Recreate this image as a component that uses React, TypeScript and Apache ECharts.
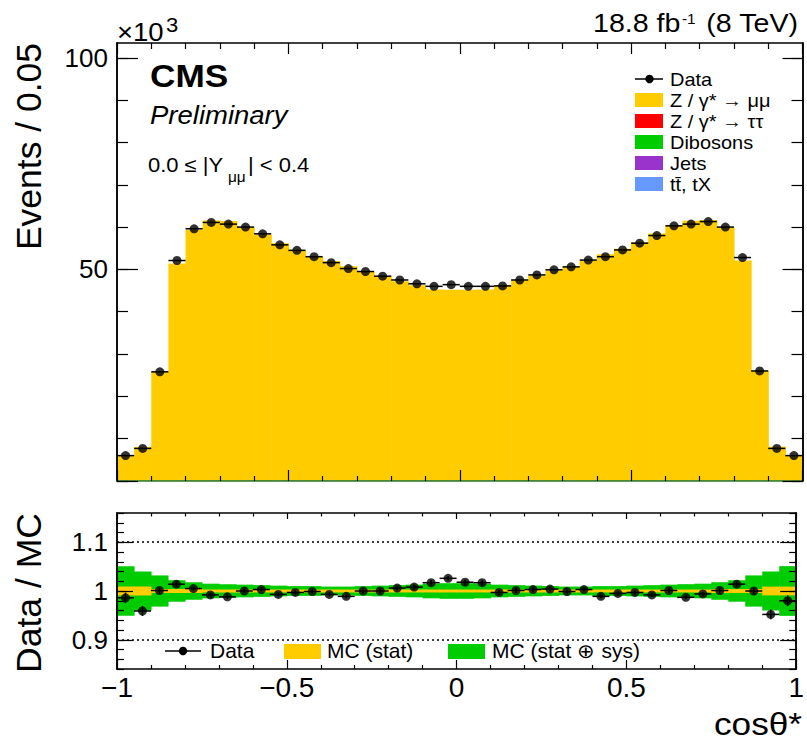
import React, { useEffect, useRef } from "react";
import * as echarts from "echarts";

// ---------- data (event counts in units of 10^3) ----------
const binLow = [
  -1.0, -0.95, -0.9, -0.85, -0.8, -0.75, -0.7, -0.65, -0.6, -0.55,
  -0.5, -0.45, -0.4, -0.35, -0.3, -0.25, -0.2, -0.15, -0.1, -0.05,
  0.0, 0.05, 0.1, 0.15, 0.2, 0.25, 0.3, 0.35, 0.4, 0.45,
  0.5, 0.55, 0.6, 0.65, 0.7, 0.75, 0.8, 0.85, 0.9, 0.95,
];
const BIN_W = 0.05;

const dataCounts = [
  6.0, 7.7, 25.8, 52.1, 59.6, 61.1, 60.7, 60.0, 58.4, 55.8,
  54.5, 53.0, 51.6, 50.2, 49.5, 48.4, 47.5, 46.6, 46.0, 46.4,
  46.0, 46.0, 46.1, 47.5, 48.7, 49.9, 50.6, 52.2, 53.0, 54.6,
  56.2, 58.0, 60.3, 60.7, 61.3, 60.0, 52.8, 26.0, 7.7, 6.0,
];

const zMuMu = [
  5.92, 7.85, 25.57, 51.17, 59.09, 61.37, 61.22, 59.78, 58.0, 56.0,
  54.45, 52.86, 51.75, 50.55, 49.29, 48.19, 47.01, 46.02, 45.02, 45.01,
  44.98, 45.02, 46.03, 47.24, 48.34, 49.49, 50.44, 51.83, 53.38, 54.66,
  56.16, 58.26, 60.03, 61.29, 61.45, 59.72, 51.87, 25.82, 7.93, 5.96,
];
const zTauTau = [
  0.03, 0.03, 0.04, 0.05, 0.05, 0.05, 0.05, 0.05, 0.05, 0.05,
  0.05, 0.05, 0.05, 0.05, 0.05, 0.05, 0.05, 0.05, 0.05, 0.05,
  0.05, 0.05, 0.05, 0.05, 0.05, 0.05, 0.05, 0.05, 0.05, 0.05,
  0.05, 0.05, 0.05, 0.05, 0.05, 0.05, 0.05, 0.04, 0.03, 0.03,
];
const dibosons = [
  0.06, 0.07, 0.08, 0.08, 0.08, 0.08, 0.08, 0.08, 0.08, 0.08,
  0.08, 0.08, 0.08, 0.08, 0.08, 0.08, 0.08, 0.08, 0.08, 0.08,
  0.08, 0.08, 0.08, 0.08, 0.08, 0.08, 0.08, 0.08, 0.08, 0.08,
  0.08, 0.08, 0.08, 0.08, 0.08, 0.08, 0.08, 0.08, 0.07, 0.06,
];
const jets = [
  0.02, 0.02, 0.03, 0.03, 0.03, 0.03, 0.03, 0.03, 0.03, 0.03,
  0.03, 0.03, 0.03, 0.03, 0.03, 0.03, 0.03, 0.03, 0.03, 0.03,
  0.03, 0.03, 0.03, 0.03, 0.03, 0.03, 0.03, 0.03, 0.03, 0.03,
  0.03, 0.03, 0.03, 0.03, 0.03, 0.03, 0.03, 0.03, 0.02, 0.02,
];
const ttbarTX = [
  0.06, 0.06, 0.06, 0.05, 0.05, 0.05, 0.05, 0.05, 0.05, 0.05,
  0.05, 0.05, 0.05, 0.05, 0.05, 0.05, 0.05, 0.05, 0.05, 0.05,
  0.05, 0.05, 0.05, 0.05, 0.05, 0.05, 0.05, 0.05, 0.05, 0.05,
  0.05, 0.05, 0.05, 0.05, 0.05, 0.05, 0.05, 0.06, 0.06, 0.06,
];

// Data / MC ratio panel
const ratio = [
  0.986, 0.959, 1.001, 1.014, 1.005, 0.992, 0.988, 1.0, 1.003, 0.993,
  0.997, 0.999, 0.993, 0.989, 1.0, 1.0, 1.006, 1.008, 1.017, 1.026,
  1.018, 1.017, 0.997, 1.001, 1.003, 1.004, 0.999, 1.003, 0.989, 0.995,
  0.997, 0.992, 1.001, 0.987, 0.994, 1.001, 1.014, 1.0, 0.952, 0.98,
];
const ratioErr = [
  0.011, 0.01, 0.006, 0.005, 0.004, 0.004, 0.004, 0.004, 0.004, 0.004,
  0.004, 0.004, 0.004, 0.004, 0.004, 0.005, 0.005, 0.005, 0.005, 0.005,
  0.005, 0.005, 0.005, 0.005, 0.005, 0.005, 0.004, 0.004, 0.004, 0.004,
  0.004, 0.004, 0.004, 0.004, 0.004, 0.004, 0.005, 0.006, 0.01, 0.011,
];
const mcStatErr = [
  0.009, 0.009, 0.004, 0.004, 0.004, 0.003, 0.003, 0.003, 0.003, 0.003,
  0.003, 0.003, 0.003, 0.003, 0.003, 0.003, 0.003, 0.003, 0.003, 0.003,
  0.003, 0.003, 0.003, 0.003, 0.003, 0.003, 0.003, 0.003, 0.003, 0.003,
  0.003, 0.003, 0.003, 0.003, 0.003, 0.004, 0.004, 0.004, 0.009, 0.009,
];
const mcTotErr = [
  0.051, 0.04, 0.032, 0.022, 0.018, 0.015, 0.014, 0.013, 0.012, 0.011,
  0.01, 0.01, 0.009, 0.009, 0.01, 0.011, 0.012, 0.013, 0.015, 0.016,
  0.016, 0.015, 0.013, 0.012, 0.011, 0.01, 0.009, 0.009, 0.01, 0.01,
  0.011, 0.012, 0.013, 0.014, 0.015, 0.018, 0.022, 0.032, 0.04, 0.051,
];

// axis ticks / labels
const topMinorTicks = [0, 10, 20, 30, 40, 50, 60, 70, 80, 90, 100];
const topMajorTicks = [0, 50, 100];
const topTickLabels = [50, 100];
const ratioMinorTicks = [
  0.84, 0.86, 0.88, 0.9, 0.92, 0.94, 0.96, 0.98, 1.0, 1.02, 1.04, 1.06,
  1.08, 1.1, 1.12, 1.14, 1.16,
];
const ratioMajorTicks = [0.9, 1.0, 1.1];
const ratioTickLabels = [0.9, 1.0, 1.1];
const ratioRefLines = [0.9, 1.1];

const FONT = "'Liberation Sans', Arial, Helvetica, sans-serif";
const C_MUMU = "#ffcc00";
const C_TAUTAU = "#ff0000";
const C_DIBOSON = "#00cc00";
const C_JETS = "#9933cc";
const C_TTBAR = "#6699ff";
const C_SYS = "#00cc00";

export default function App() {
  const ref = useRef<HTMLDivElement>(null);

  useEffect(() => {
    if (!ref.current) return;
    const chart = echarts.init(ref.current, null, { renderer: "svg" });
    const n = binLow.length;

    const rectRender = (color: string) => (_p: any, api: any) => {
      const a = api.coord([api.value(0), api.value(3)]);
      const b = api.coord([api.value(1), api.value(2)]);
      return {
        type: "rect",
        silent: true,
        shape: { x: a[0], y: a[1], width: b[0] - a[0] + 0.6, height: b[1] - a[1] },
        style: { fill: color },
      };
    };

    const errRender = (_p: any, api: any) => {
      const x0 = api.value(0);
      const x1 = api.value(1);
      const y = api.value(2);
      const e = api.value(3);
      const l = api.coord([x0, y]);
      const r = api.coord([x1, y]);
      const t = api.coord([(x0 + x1) / 2, y + e]);
      const u = api.coord([(x0 + x1) / 2, y - e]);
      return {
        type: "group",
        silent: true,
        children: [
          { type: "line", shape: { x1: l[0], y1: l[1], x2: r[0], y2: r[1] }, style: { stroke: "#000", lineWidth: 1.5 } },
          { type: "line", shape: { x1: t[0], y1: t[1], x2: u[0], y2: u[1] }, style: { stroke: "#000", lineWidth: 1.5 } },
        ],
      };
    };

    // stacked MC
    const stackDefs = [
      { name: "tt\u0304, tX", values: ttbarTX, color: C_TTBAR },
      { name: "Jets", values: jets, color: C_JETS },
      { name: "Dibosons", values: dibosons, color: C_DIBOSON },
      { name: "Z / \u03b3* \u2192 \u03c4\u03c4", values: zTauTau, color: C_TAUTAU },
      { name: "Z / \u03b3* \u2192 \u03bc\u03bc", values: zMuMu, color: C_MUMU },
    ];
    let cum = new Array(n).fill(0);
    const stackSeries = stackDefs.map((def) => {
      const data = def.values.map((v, i) => [binLow[i], binLow[i] + BIN_W, cum[i], cum[i] + v]);
      cum = cum.map((c, i) => c + def.values[i]);
      return {
        type: "custom",
        name: def.name,
        xAxisIndex: 0,
        yAxisIndex: 0,
        renderItem: rectRender(def.color),
        encode: { x: [0, 1], y: [2, 3] },
        data,
        z: 1,
      };
    });

    const centers = binLow.map((b) => b + BIN_W / 2);

    const lineStyle = { color: "#000", width: 1.5 };
    const tickStyle = { color: "#000", width: 1.2 };

    const xAx = (
      grid: number,
      pos: string,
      labels: boolean,
      major: number,
      minor: number,
      lineColor = "#000"
    ) => ({
      type: "value",
      gridIndex: grid,
      position: pos,
      min: -1,
      max: 1,
      interval: 0.5,
      z: 10,
      axisLine: { show: true, onZero: false, lineStyle: { color: lineColor, width: 1.5 } },
      axisTick: { show: true, inside: true, length: major, lineStyle: tickStyle },
      minorTick: { show: true, splitNumber: 5, length: minor, lineStyle: tickStyle },
      splitLine: { show: false },
      minorSplitLine: { show: false },
      axisLabel: labels
        ? {
            show: true,
            fontSize: 28,
            fontFamily: FONT,
            color: "#000",
            margin: 4,
            formatter: (v: number) => (v < 0 ? "\u2212" + String(-v) : String(v)),
          }
        : { show: false },
    });

    const yAx = (
      grid: number,
      pos: string,
      min: number,
      max: number,
      ticks: number[],
      len: number,
      labels: number[] | null
    ) => ({
      type: "value",
      gridIndex: grid,
      position: pos,
      min,
      max,
      z: 10,
      axisLine: { show: true, onZero: false, lineStyle },
      axisTick: { show: true, inside: true, length: len, customValues: ticks, lineStyle: tickStyle },
      splitLine: { show: false },
      axisLabel: labels
        ? {
            show: true,
            customValues: labels,
            fontSize: 26,
            fontFamily: FONT,
            color: "#000",
            margin: 9,
            formatter: (v: number) => String(v),
          }
        : { show: false },
    });

    const txt = (
      text: string,
      x: number,
      y: number,
      size: number,
      o: { align?: string; weight?: string; style?: string; scaleX?: number; rotation?: number } = {}
    ) => ({
      type: "text",
      x,
      y,
      silent: true,
      scaleX: o.scaleX ?? 1.1,
      rotation: o.rotation ?? 0,
      style: {
        text,
        fill: "#000",
        fontSize: size,
        fontFamily: FONT,
        fontWeight: o.weight ?? "normal",
        fontStyle: o.style ?? "normal",
        align: o.align ?? "left",
        textAlign: o.align ?? "left",
        verticalAlign: "middle",
        textVerticalAlign: "middle",
      },
    });

    const legendRows = [
      { label: "Z / \u03b3* \u2192 \u03bc\u03bc", color: C_MUMU },
      { label: "Z / \u03b3* \u2192 \u03c4\u03c4", color: C_TAUTAU },
      { label: "Dibosons", color: C_DIBOSON },
      { label: "Jets", color: C_JETS },
      { label: "tt\u0304, tX", color: C_TTBAR },
    ];
    const legendGraphics: any[] = [
      { type: "line", silent: true, shape: { x1: 635, y1: 79, x2: 663, y2: 79 }, style: { stroke: "#000", lineWidth: 1.5 } },
      { type: "circle", silent: true, shape: { cx: 649.5, cy: 79, r: 4.2 }, style: { fill: "#000" } },
      txt("Data", 670, 79, 19, { scaleX: 1.05 }),
    ];
    legendRows.forEach((row, i) => {
      const y = 100 + i * 21;
      legendGraphics.push({
        type: "rect",
        silent: true,
        shape: { x: 635, y: y - 7, width: 28, height: 14 },
        style: { fill: row.color },
      });
      legendGraphics.push(txt(row.label, 670, y, 19, { scaleX: 1.05 }));
    });

    const option: any = {
      animation: false,
      backgroundColor: "#fff",
      grid: [
        { left: 117, top: 43, width: 685.5, height: 438 },
        { left: 117, top: 513, width: 685.5, height: 156 },
      ],
      xAxis: [
        xAx(0, "bottom", false, 11, 5, "#2f7d1a"),
        xAx(0, "top", false, 11, 6),
        xAx(1, "bottom", true, 9, 4),
        xAx(1, "top", false, 6, 3.5),
      ],
      yAxis: [
        yAx(0, "left", 0, 103.5, topMinorTicks, 11, null),
        yAx(0, "left", 0, 103.5, topMajorTicks, 21, topTickLabels),
        yAx(0, "right", 0, 103.5, topMinorTicks, 11, null),
        yAx(0, "right", 0, 103.5, topMajorTicks, 20, null),
        yAx(1, "left", 0.84, 1.16, ratioMinorTicks, 7, null),
        yAx(1, "left", 0.84, 1.16, ratioMajorTicks, 16, ratioTickLabels),
        yAx(1, "right", 0.84, 1.16, ratioMinorTicks, 7, null),
        yAx(1, "right", 0.84, 1.16, ratioMajorTicks, 16, null),
      ],
      series: [
        ...stackSeries,
        {
          type: "custom",
          name: "Data errors",
          xAxisIndex: 0,
          yAxisIndex: 0,
          renderItem: errRender,
          encode: { x: [0, 1], y: 2 },
          data: dataCounts.map((v, i) => [binLow[i], binLow[i] + BIN_W, v, 0]),
          z: 3,
        },
        {
          type: "scatter",
          name: "Data",
          xAxisIndex: 0,
          yAxisIndex: 0,
          symbol: "circle",
          symbolSize: 9,
          itemStyle: { color: "#000" },
          data: dataCounts.map((v, i) => [centers[i], v]),
          z: 4,
        },
        {
          type: "custom",
          name: "MC (stat \u2295 sys)",
          xAxisIndex: 2,
          yAxisIndex: 4,
          renderItem: rectRender(C_SYS),
          encode: { x: [0, 1], y: [2, 3] },
          data: mcTotErr.map((e, i) => [binLow[i], binLow[i] + BIN_W, 1 - e, 1 + e]),
          z: 1,
        },
        {
          type: "custom",
          name: "MC (stat)",
          xAxisIndex: 2,
          yAxisIndex: 4,
          renderItem: rectRender(C_MUMU),
          encode: { x: [0, 1], y: [2, 3] },
          data: mcStatErr.map((e, i) => [binLow[i], binLow[i] + BIN_W, 1 - e, 1 + e]),
          z: 2,
        },
        {
          type: "custom",
          name: "Ratio errors",
          xAxisIndex: 2,
          yAxisIndex: 4,
          renderItem: errRender,
          encode: { x: [0, 1], y: 2 },
          data: ratio.map((v, i) => [binLow[i], binLow[i] + BIN_W, v, ratioErr[i]]),
          z: 3,
        },
        {
          type: "scatter",
          name: "Data / MC",
          xAxisIndex: 2,
          yAxisIndex: 4,
          symbol: "circle",
          symbolSize: 9,
          itemStyle: { color: "#000" },
          data: ratio.map((v, i) => [centers[i], v]),
          z: 4,
          markLine: {
            silent: true,
            symbol: "none",
            label: { show: false },
            lineStyle: { color: "#000", width: 1.5, type: [2, 3] },
            data: ratioRefLines.map((v) => ({ yAxis: v })),
          },
        },
      ],
      graphic: [
        txt("\u00d710", 117, 32.5, 25),
        txt("3", 166, 24.5, 20),
        txt("18.8 fb", 593, 22.5, 26),
        txt("-1", 682, 19.5, 14),
        txt("(8 TeV)", 798, 22.5, 26, { align: "right" }),
        txt("CMS", 150, 76.5, 32, { weight: "bold" }),
        txt("Preliminary", 150, 115, 25, { style: "italic" }),
        txt("0.0 \u2264 |Y", 148, 165, 20),
        txt("\u03bc\u03bc", 228, 177, 14),
        txt("| < 0.4", 248, 165, 20),
        txt("Events / 0.05", 28.5, 146.5, 35.5, { align: "center", scaleX: 1, rotation: Math.PI / 2 }),
        txt("Data / MC", 28.5, 593, 35.5, { align: "center", scaleX: 1, rotation: Math.PI / 2 }),
        txt("cos\u03b8*", 802, 724, 32, { align: "right" }),
        ...legendGraphics,
        // ratio legend
        { type: "line", silent: true, shape: { x1: 165, y1: 651, x2: 201, y2: 651 }, style: { stroke: "#000", lineWidth: 1.5 } },
        { type: "circle", silent: true, shape: { cx: 183, cy: 651, r: 4.2 }, style: { fill: "#000" } },
        txt("Data", 210, 651, 20, { scaleX: 1.05 }),
        { type: "rect", silent: true, shape: { x: 284, y: 644, width: 37, height: 15 }, style: { fill: C_MUMU } },
        txt("MC (stat)", 327, 651, 20, { scaleX: 1.05 }),
        { type: "rect", silent: true, shape: { x: 448, y: 644, width: 37, height: 15 }, style: { fill: C_SYS } },
        txt("MC (stat \u2295 sys)", 492, 651, 20, { scaleX: 1.05 }),
      ],
    };

    chart.setOption(option);
    return () => chart.dispose();
  }, []);

  return (
    <div
      ref={ref}
      style={{ position: "absolute", left: 0, top: 0, width: 807, height: 741, background: "#fff" }}
    />
  );
}
